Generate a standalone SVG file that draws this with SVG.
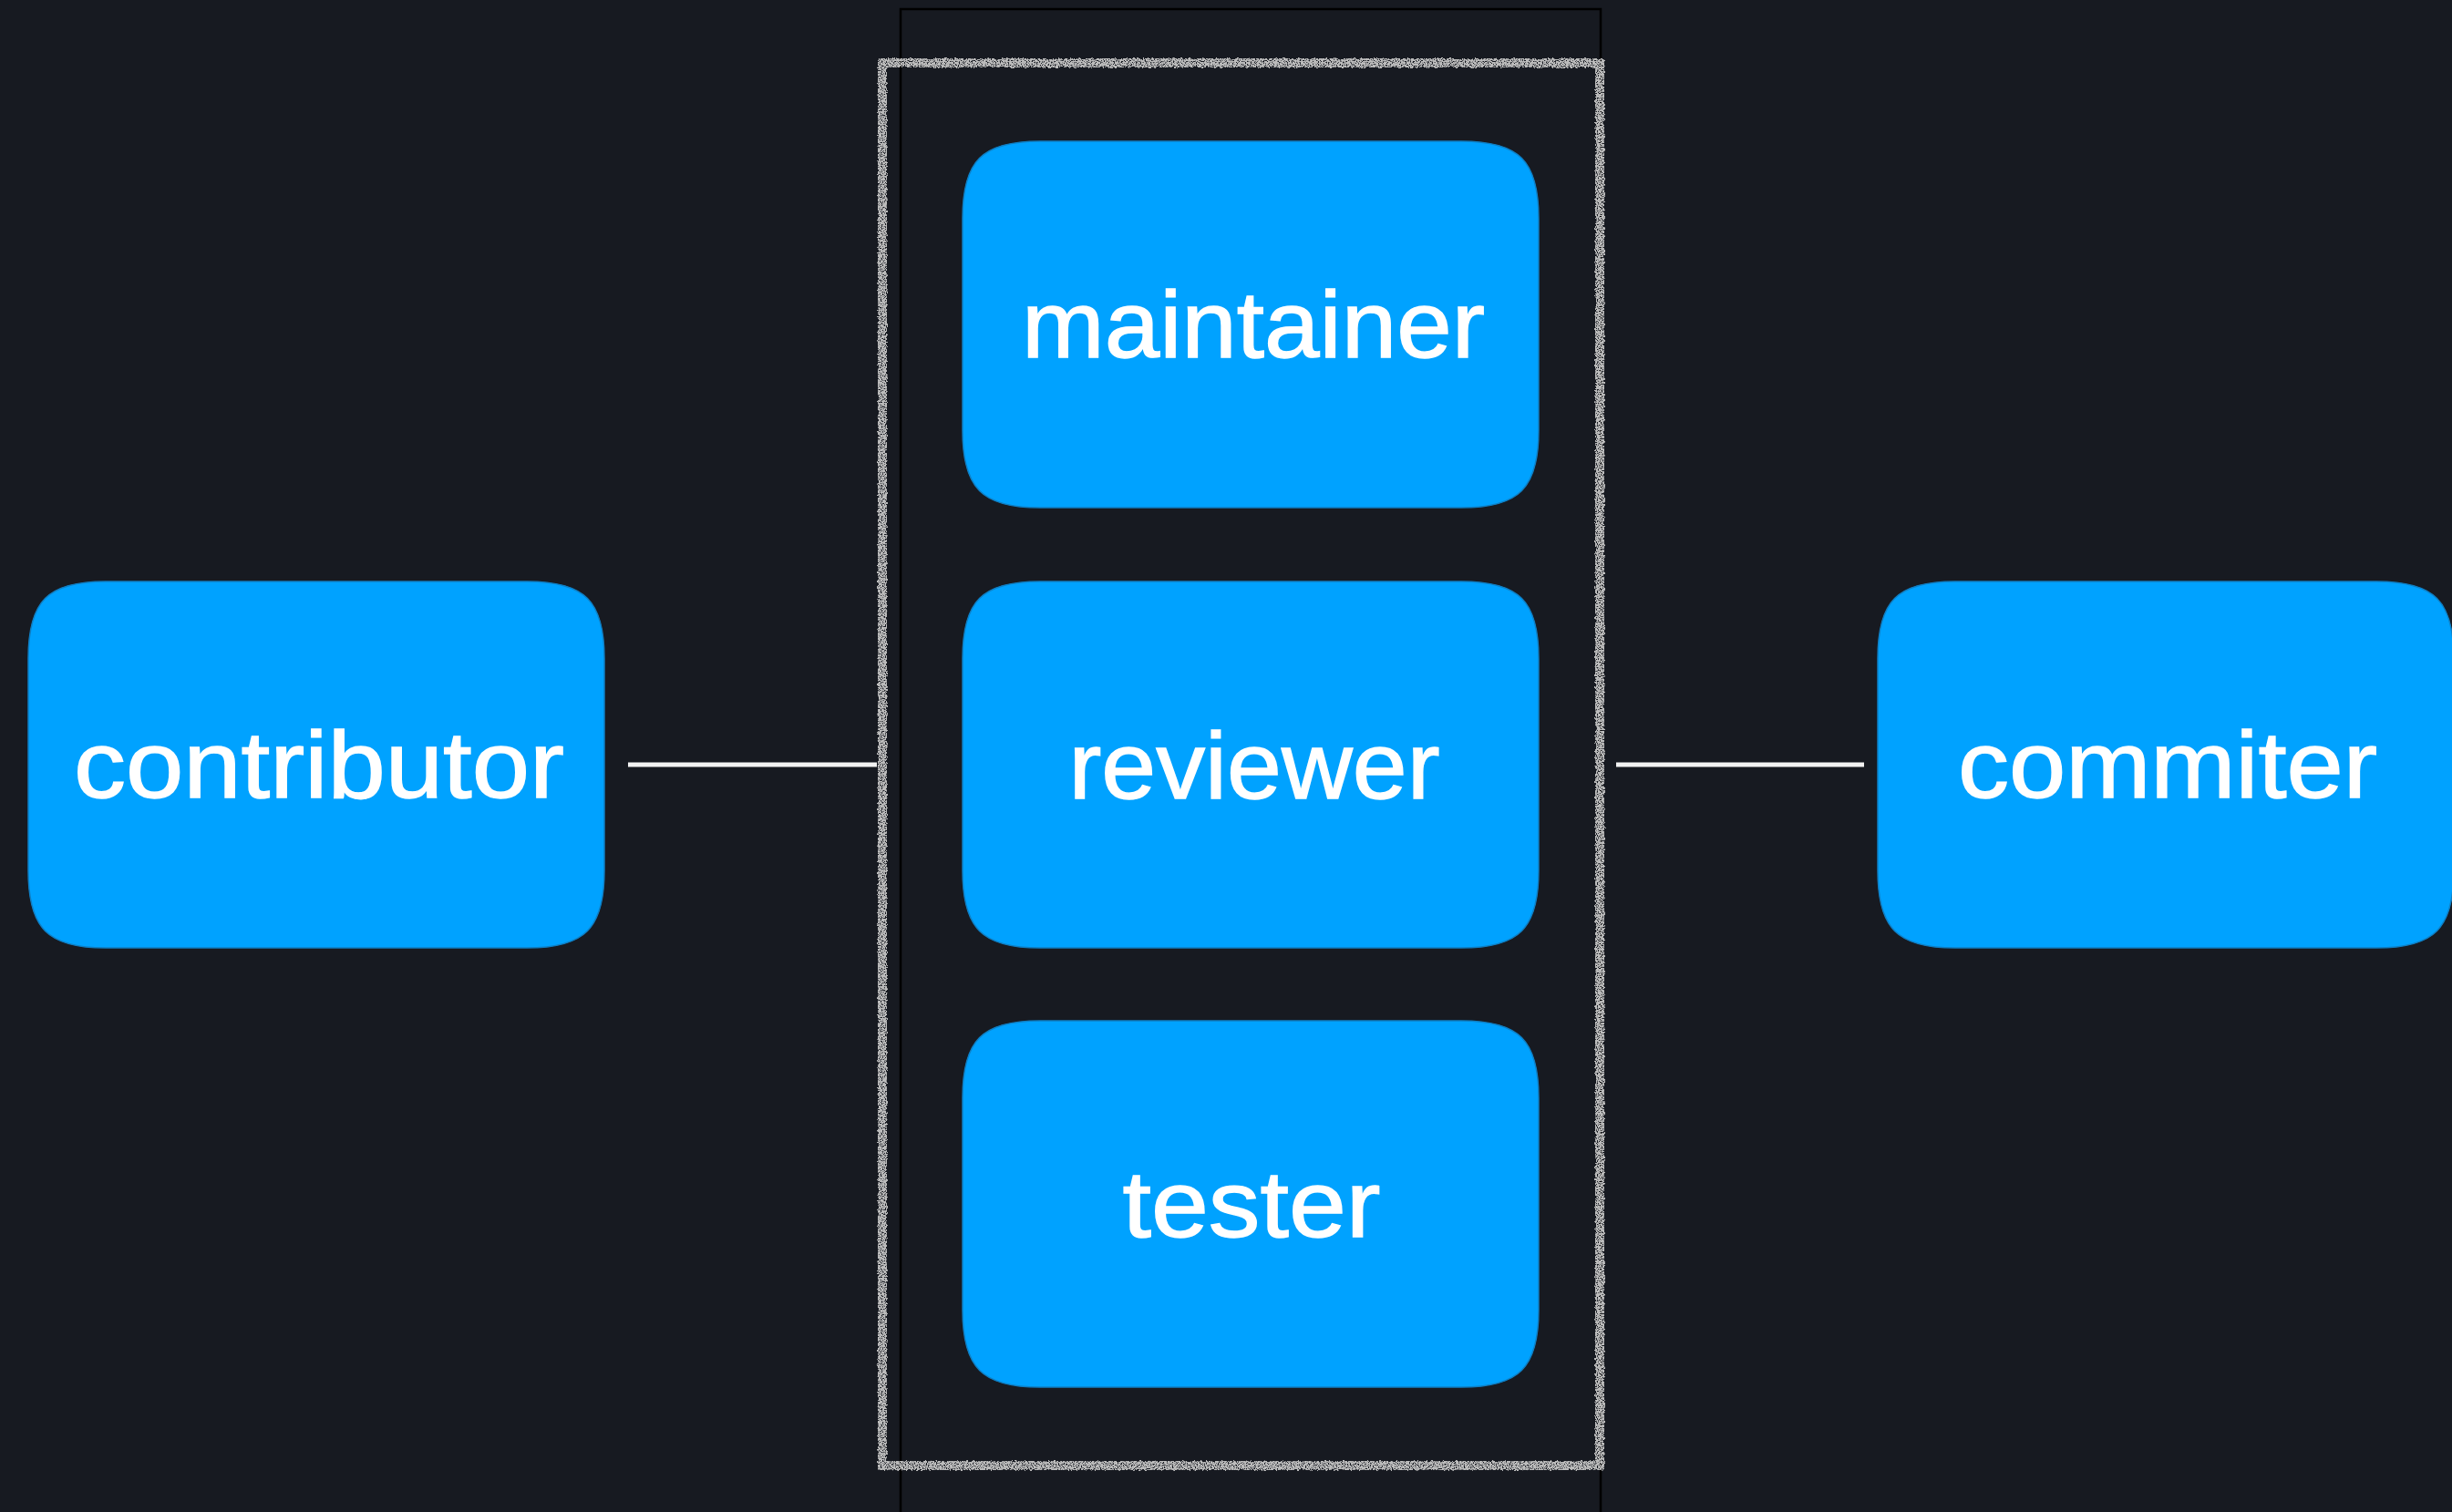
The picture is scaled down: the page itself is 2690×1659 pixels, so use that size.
<svg xmlns="http://www.w3.org/2000/svg" xmlns:xlink="http://www.w3.org/1999/xlink" width="2690" height="1659" viewBox="0 0 2690 1659">
  <defs>
    <path id="box" d="M85,0 H547 C610.75,0 632,21.25 632,85 V317 C632,380.75 610.75,402 547,402 H85 C21.25,402 0,380.75 0,317 V85 C0,21.25 21.25,0 85,0 Z"/>
    <filter id="rough" x="-5%" y="-5%" width="110%" height="110%">
      <feTurbulence type="fractalNoise" baseFrequency="0.3" numOctaves="2" seed="3" result="n"/>
      <feDisplacementMap in="SourceGraphic" in2="n" scale="4" xChannelSelector="R" yChannelSelector="G" result="d"/>
      <feTurbulence type="fractalNoise" baseFrequency="0.8" numOctaves="1" seed="7" result="n2"/>
      <feColorMatrix in="n2" type="matrix" values="0 0 0 0 0  0 0 0 0 0  0 0 0 0 0  -7 0 0 0 4.6" result="mask"/>
      <feComposite in="d" in2="mask" operator="in"/>
    </filter>
  </defs>
  <style>
    .bg { fill: #171a21; }
    .node use { fill: #00a2ff; stroke: #0f7fc4; stroke-width: 1.5; }
    .node text { fill: #ffffff; stroke: #ffffff; stroke-width: 1.4; font-family: "Liberation Sans", Arial, Helvetica, sans-serif; font-size: 104px; text-anchor: middle; }
    .conn line { stroke: #f2f2f2; stroke-width: 5; }
    .frame { fill: none; stroke: #000000; stroke-width: 2.5; }
    .sketch { fill: none; stroke: #bcbcbc; stroke-width: 10; }
  </style>
  <rect class="bg" x="0" y="0" width="2690" height="1659"/>

  <g id="frame">
    <rect class="frame" x="988" y="10" width="768" height="1720"/>
  </g>
  <g id="group-box">
    <rect class="sketch" x="968" y="69" width="787" height="1539" filter="url(#rough)"/>
  </g>

  <g id="connectors" class="conn">
    <line x1="689" y1="839" x2="962" y2="839"/>
    <line x1="1773" y1="839" x2="2045" y2="839"/>
  </g>

  <g id="contributor" class="node">
    <use href="#box" xlink:href="#box" x="31" y="638"/>
    <text x="350" y="875" textLength="538" lengthAdjust="spacingAndGlyphs">contributor</text>
  </g>
  <g id="maintainer" class="node">
    <use href="#box" xlink:href="#box" x="1056" y="155"/>
    <text x="1375" y="392" textLength="508" lengthAdjust="spacingAndGlyphs">maintainer</text>
  </g>
  <g id="reviewer" class="node">
    <use href="#box" xlink:href="#box" x="1056" y="638"/>
    <text x="1376" y="876" textLength="407" lengthAdjust="spacingAndGlyphs">reviewer</text>
  </g>
  <g id="tester" class="node">
    <use href="#box" xlink:href="#box" x="1056" y="1120"/>
    <text x="1373" y="1357" textLength="283" lengthAdjust="spacingAndGlyphs">tester</text>
  </g>
  <g id="commiter" class="node">
    <use href="#box" xlink:href="#box" x="2060" y="638"/>
    <text x="2378" y="875" textLength="460" lengthAdjust="spacingAndGlyphs">commiter</text>
  </g>
</svg>
